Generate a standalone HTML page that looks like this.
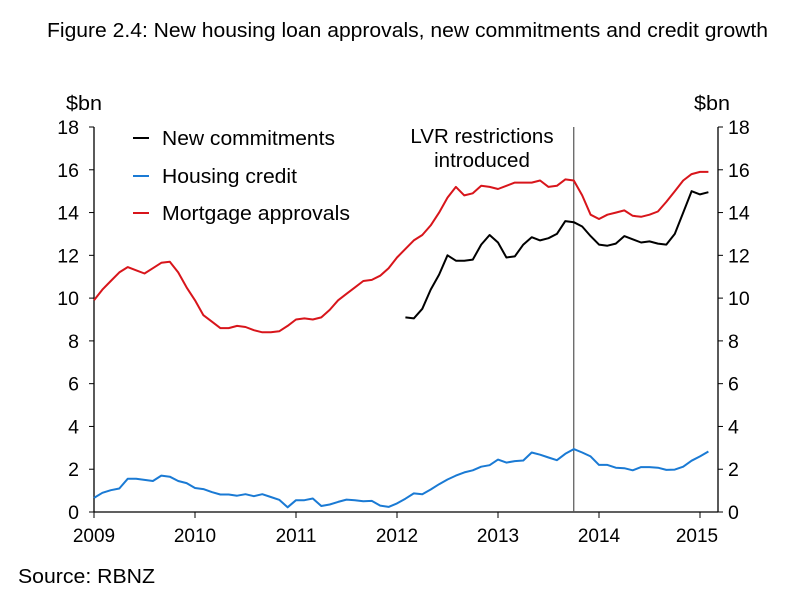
<!DOCTYPE html>
<html><head><meta charset="utf-8"><style>
body{margin:0;background:#fff;}
svg text{font-family:"Liberation Sans",Arial,sans-serif;fill:#000;}
</style></head><body>
<svg id="chart" width="799" height="600" viewBox="0 0 799 600" xmlns="http://www.w3.org/2000/svg">
<text x="47" y="37" font-size="20" textLength="721" lengthAdjust="spacingAndGlyphs">Figure 2.4: New housing loan approvals, new commitments and credit growth</text>
<text x="66" y="110" font-size="20" textLength="36" lengthAdjust="spacingAndGlyphs">$bn</text>
<text x="694" y="110" font-size="20" textLength="36" lengthAdjust="spacingAndGlyphs">$bn</text>
<g id="axes"></g>
<g id="series"></g>
<g>
<line x1="133" y1="138" x2="149" y2="138" stroke="#000" stroke-width="2"/>
<text x="162" y="145" font-size="20.5" textLength="173" lengthAdjust="spacingAndGlyphs">New commitments</text>
<line x1="133" y1="176" x2="149" y2="176" stroke="#1a7ad4" stroke-width="2"/>
<text x="162" y="183" font-size="20.5" textLength="135" lengthAdjust="spacingAndGlyphs">Housing credit</text>
<line x1="133" y1="213" x2="149" y2="213" stroke="#d8151b" stroke-width="2"/>
<text x="162" y="220" font-size="20.5" textLength="188" lengthAdjust="spacingAndGlyphs">Mortgage approvals</text>
</g>
<text x="482" y="143" font-size="20.5" text-anchor="middle">LVR restrictions</text>
<text x="482" y="167" font-size="20.5" text-anchor="middle">introduced</text>
<text x="18" y="583" font-size="20" textLength="137" lengthAdjust="spacingAndGlyphs">Source: RBNZ</text>
</svg>
<script>
const years=["2009","2010","2011","2012","2013","2014","2015"];
const yTicks=[0,2,4,6,8,10,12,14,16,18];
const approvals=[9.9,10.4,10.8,11.2,11.45,11.3,11.15,11.4,11.65,11.7,11.2,10.5,9.9,9.2,8.9,8.6,8.6,8.7,8.65,8.5,8.4,8.4,8.45,8.7,9.0,9.05,9.0,9.1,9.45,9.9,10.2,10.5,10.8,10.85,11.05,11.4,11.9,12.3,12.7,12.95,13.4,14.0,14.7,15.2,14.8,14.9,15.25,15.2,15.1,15.25,15.4,15.4,15.4,15.5,15.2,15.25,15.55,15.5,14.8,13.9,13.7,13.9,14.0,14.1,13.85,13.8,13.9,14.05,14.5,15.0,15.5,15.8,15.9,15.9];
const commitStart=37;
const commitments=[9.1,9.05,9.5,10.4,11.1,12.0,11.75,11.75,11.8,12.5,12.95,12.6,11.9,11.95,12.5,12.85,12.7,12.8,13.0,13.6,13.55,13.35,12.9,12.5,12.45,12.55,12.9,12.75,12.6,12.65,12.55,12.5,13.0,14.0,15.0,14.85,14.95];
const credit=[0.66,0.9,1.02,1.1,1.55,1.55,1.5,1.45,1.7,1.65,1.45,1.35,1.12,1.07,0.93,0.82,0.82,0.76,0.83,0.74,0.83,0.7,0.57,0.22,0.55,0.55,0.63,0.28,0.35,0.47,0.58,0.55,0.5,0.52,0.3,0.24,0.4,0.62,0.87,0.83,1.05,1.3,1.52,1.7,1.85,1.95,2.12,2.19,2.45,2.31,2.38,2.41,2.78,2.68,2.55,2.42,2.72,2.94,2.78,2.6,2.2,2.2,2.07,2.05,1.95,2.1,2.1,2.07,1.97,1.98,2.12,2.4,2.6,2.83];
const lvrMonth=57;

const X0=94,X1=718,MW=(700-94)/72;
const Y0=512,Y18=127;
const xs=m=>X0+m*MW;
const ys=v=>Y0-(v/18)*(Y0-Y18);
const NS="http://www.w3.org/2000/svg";
function mk(tag,attrs,parent){const e=document.createElementNS(NS,tag);for(const k in attrs)e.setAttribute(k,attrs[k]);parent.appendChild(e);return e;}
const ax=document.getElementById('axes');
let e;
e=mk('line',{x1:X0,y1:Y18,x2:X0,y2:Y0,stroke:'#000','stroke-width':1.3},ax);


e=mk('line',{x1:X1,y1:Y18,x2:X1,y2:Y0,stroke:'#000','stroke-width':1.3},ax);


e=mk('line',{x1:X0,y1:Y0,x2:X1,y2:Y0,stroke:'#000','stroke-width':1.3},ax);


yTicks.forEach(v=>{
 const y=ys(v);
 mk('line',{x1:X0-5,y1:y,x2:X0,y2:y,stroke:'#000'},ax);
 mk('line',{x1:X1,y1:y,x2:X1+5,y2:y,stroke:'#000'},ax);
 let t=mk('text',{x:79,y:y+7,'font-size':19.5,'text-anchor':'end'},ax);t.textContent=v;
 
 
 t=mk('text',{x:728,y:y+7,'font-size':19.5},ax);t.textContent=v;
 
 
});
years.forEach((yr,i)=>{
 const x=xs(i*12);
 mk('line',{x1:x,y1:Y0,x2:x,y2:Y0+6,stroke:'#000'},ax);
 const t=mk('text',{x:i===6?x-3:x,y:542,'font-size':19,'text-anchor':'middle'},ax);t.textContent=yr;
 
 
});
e=mk('line',{x1:xs(lvrMonth),y1:Y18,x2:xs(lvrMonth),y2:Y0,stroke:'#555','stroke-width':1.2},ax);


const sg=document.getElementById('series');
function path(arr,start,color,name){
 const d=arr.map((v,i)=>(i?'L':'M')+xs(start+i).toFixed(1)+','+ys(v).toFixed(1)).join('');
 const p=mk('path',{d:d,fill:'none',stroke:color,'stroke-width':2,'stroke-linejoin':'round'},sg);
 
 
}
path(approvals,0,'#d8151b','mortgage-approvals-line');
path(credit,0,'#1a7ad4','housing-credit-line');
path(commitments,commitStart,'#000','new-commitments-line');
</script>
</body></html>
